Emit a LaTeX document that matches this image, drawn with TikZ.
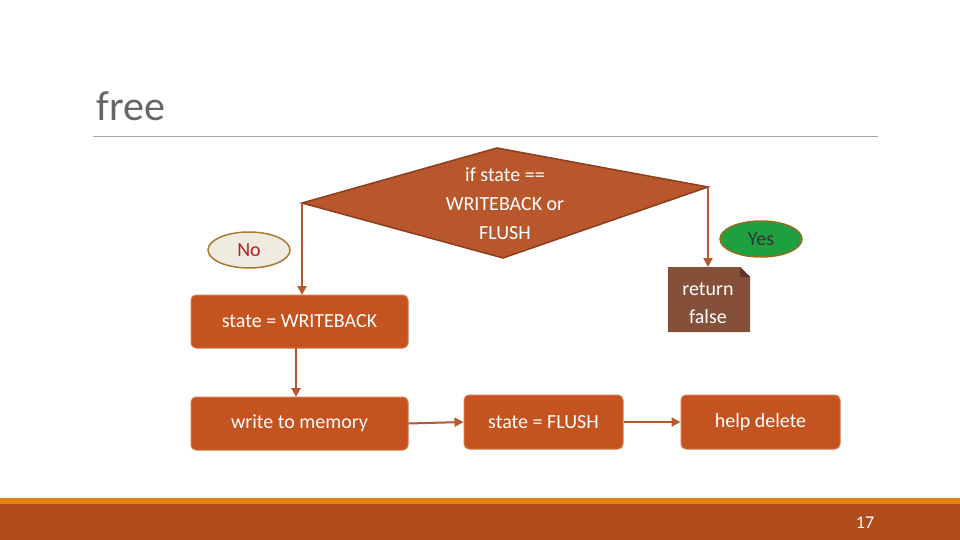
\documentclass[tikz,border=0pt]{standalone}
\usepackage{fontspec}
\setmainfont{Carlito}
\usetikzlibrary{shapes.geometric,arrows.meta}
\definecolor{boxc}{HTML}{C4531F}
\definecolor{boxd}{HTML}{D77A48}
\definecolor{diac}{HTML}{B9572C}
\definecolor{diad}{HTML}{8C3D1E}
\definecolor{arr}{HTML}{B8582C}
\definecolor{retc}{HTML}{85503A}
\definecolor{orline}{HTML}{E48312}
\begin{document}
\begin{tikzpicture}[x=1pt,y=-1pt,
  box/.style={draw=boxd,fill=boxc,rounded corners=5pt,text=white,font=\fontsize{20}{24}\selectfont,line width=1pt},
  ell/.style={ellipse,minimum width=82pt,minimum height=36pt,line width=1.5pt,font=\fontsize{20}{24}\selectfont},
  ar/.style={draw=arr,line width=2pt,-{Triangle[length=9pt,width=9pt]}}]
\useasboundingbox (0,0) rectangle (960,540);
\node[anchor=base west,text=black!60,font=\fontsize{42}{48}\selectfont] (title) at (93,121) {free};
\draw[black!35,line width=0.8pt] (93,136) -- (878,136);
\fill[orline] (0,498) rectangle (960,504);
\fill[boxc!90!black] (0,504) rectangle (960,540);
\node[text=white,font=\fontsize{18}{20}\selectfont] (pg) at (865,523) {17};
% diamond
\coordinate (dl) at (302,203); \coordinate (dt) at (497,148);
\coordinate (dr) at (708,187); \coordinate (db) at (503,258);
\draw[fill=diac,draw=diad,line width=1.5pt] (dl)--(dt)--(dr)--(db)--cycle;
\node[text=white,align=center,font=\fontsize{20}{29}\selectfont] (dia) at (505,204) {if state ==\\WRITEBACK or\\FLUSH};
\node[box,minimum width=217pt,minimum height=53pt] (wb) at (299.5,321.5) {state = WRITEBACK};
\node[box,minimum width=217pt,minimum height=53pt] (wm) at (299.5,423.5) {write to memory};
\node[box,minimum width=159pt,minimum height=54pt] (fl) at (543.5,422) {state = FLUSH};
\node[box,minimum width=159pt,minimum height=54pt] (hd) at (760.5,422) {help delete};
\fill[retc] (668,267) -- (740,267) -- (750,277) -- (750,332) -- (668,332) -- cycle;
\fill[retc!70!black] (740,267) -- (750,277) -- (740,277) -- cycle;
\node[text=white,align=center,font=\fontsize{20}{28}\selectfont] (rf) at (708,303) {return\\false};
\node[ell,draw={rgb,255:red,170;green,120;blue,50},fill={rgb,255:red,238;green,236;blue,225},text={rgb,255:red,190;green,30;blue,30}] (no) at (249,250) {No};
\node[ell,draw={rgb,255:red,150;green,110;blue,30},fill={rgb,255:red,30;green,160;blue,64},text=black!80] (yes) at (761,239) {Yes};
\draw[ar] (dl) -- (302,295);
\draw[ar] (dr) -- (708,267);
\draw[ar] (296,348) -- (296,397);
\draw[ar] (wm.east) -- (fl.west);
\draw[ar] (fl.east) -- (hd.west);
\end{tikzpicture}
\end{document}
